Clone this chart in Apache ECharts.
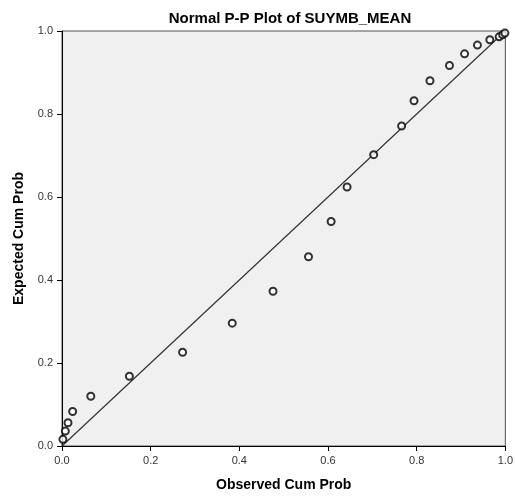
<!DOCTYPE html>
<html>
<head>
<meta charset="utf-8">
<script src="https://cdn.jsdelivr.net/npm/echarts@6/dist/echarts.min.js"></script>
<style>
  html, body { margin: 0; padding: 0; background: #fff; }
  #chart { width: 516px; height: 497px; }
</style>
</head>
<body>
<div id="chart"></div>
<script>
// observed vs expected cumulative probabilities
const observed = [0.002, 0.0075, 0.0135, 0.024, 0.065, 0.152, 0.272, 0.384, 0.476, 0.556,
  0.607, 0.643, 0.703, 0.766, 0.794, 0.830, 0.874, 0.908, 0.937, 0.965, 0.986, 0.994, 0.999];
const expected = [0.016, 0.036, 0.056, 0.083, 0.120, 0.168, 0.226, 0.296, 0.373, 0.456,
  0.541, 0.624, 0.702, 0.771, 0.832, 0.880, 0.917, 0.945, 0.966, 0.979, 0.986, 0.991, 0.995];
const refLineX = [0, 1];
const refLineY = [0, 1];
const ticks = [0, 0.2, 0.4, 0.6, 0.8, 1.0];

const FONT = '"Liberation Sans", Arial, sans-serif';
const chart = echarts.init(document.getElementById('chart'));

function axis(name, gap) {
  return {
    type: 'value', min: ticks[0], max: ticks[ticks.length - 1], interval: ticks[1] - ticks[0],
    name, nameLocation: 'middle', nameGap: gap,
    nameTextStyle: { fontFamily: FONT, fontWeight: 'bold', fontSize: 14, color: '#000' },
    axisLine: { lineStyle: { color: '#000', width: 1 } },
    axisTick: { length: 5, lineStyle: { color: '#000' } },
    axisLabel: { fontFamily: FONT, fontSize: 11, color: '#333', margin: 9, formatter: v => v.toFixed(1) },
    splitLine: { show: false }
  };
}

chart.setOption({
  animation: false,
  title: {
    text: 'Normal P-P Plot of SUYMB_MEAN', left: 285, top: 6, textAlign: 'center',
    textStyle: { fontFamily: FONT, fontWeight: 'bold', fontSize: 15, color: '#000' }
  },
  grid: {
    left: 62, right: 9, top: 31, bottom: 50, show: true,
    backgroundColor: '#f0f0f0', borderColor: '#555', borderWidth: 1
  },
  xAxis: axis('Observed Cum Prob', 32),
  yAxis: axis('Expected Cum Prob', 36),
  series: [
    {
      type: 'line', data: refLineX.map((x, i) => [x, refLineY[i]]),
      symbol: 'none', lineStyle: { color: '#333', width: 1.2 }, z: 2
    },
    {
      type: 'scatter', data: observed.map((x, i) => [x, expected[i]]),
      symbol: 'emptyCircle', symbolSize: 7,
      itemStyle: { color: '#000', borderColor: '#000', borderWidth: 1.6 }, z: 3
    }
  ]
});
</script>
</body>
</html>
